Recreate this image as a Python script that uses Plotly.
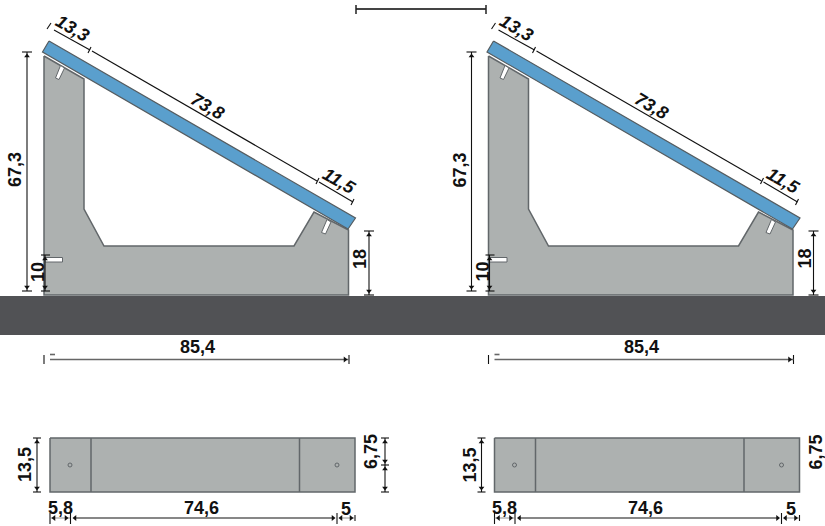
import plotly.graph_objects as go

W, H = 825, 526
FONT = "Liberation Sans"
GRAY = "#adb1b0"; EDGE = "#62676a"; BLUE = "#5a9fcd"; DARK = "#515255"; INK = "#111111"

offsets = [0, 444.5]

body_x = [44, 84, 84, 104, 294, 314, 348.5, 348.5, 44]
body_y = [56, 79, 209, 246, 246, 212, 230, 295, 295]
panel_x = [49, 42.5, 348, 355.5]
panel_y = [41, 52, 229, 218]
slot1_x = [60.5, 64.5, 59, 55.5]
slot1_y = [65.5, 68, 79.5, 78]
slot2_x = [327, 331, 325.5, 321.5]
slot2_y = [219.5, 222, 234, 232.5]
slot3_x = [45, 62.5, 62.5, 45]
slot3_y = [257.5, 257.5, 262, 262]

# dimension lines: (x0, y0, x1, y1)
dims_front = [
    (27, 52, 27, 291), (22, 52, 32, 52), (22, 291, 32, 291),
    (45, 255, 45, 291), (41, 255, 50, 255), (41, 291, 50, 291),
    (369, 231, 369, 295), (364, 231, 374, 231), (364, 295, 374, 295),
    (44, 355, 44, 364), (349, 355, 349, 364),
    (54, 30, 90, 50), (92, 51, 317, 181), (319, 182, 353, 202),
    (47, 29, 51, 23), (88, 53, 91, 47), (316, 184, 319, 178), (351, 205, 354, 199),
]
dims_front_soft = [(50, 359.5, 349, 359.5), (50, 354.5, 55, 354.5)]
labels_front = [
    ("13,3", 72, 28, 30, True), ("73,8", 207, 106, 30, True), ("11,5", 339, 181, 30, True),
    ("67,3", 15, 170, -90, False), ("10", 38, 272, -90, False), ("18", 360, 259, -90, False),
    ("85,4", 197, 347, 0, False),
]
arrows_up_x = [27, 45, 369]
arrows_up_y = [56, 259, 235]
arrows_down_x = [27, 45, 369]
arrows_down_y = [287, 287, 291]
arrows_right_x = [345]
arrows_right_y = [359.5]

plan_x = [50, 355, 355, 50]
plan_y = [438, 438, 492, 492]
plan_dividers = [91, 299.5]
plan_holes_x = [70, 337]
plan_hole_y = 465
dims_plan = [
    (37, 438, 37, 492), (33, 438, 41, 438), (33, 492, 41, 492),
    (385, 438, 385, 492), (381, 438, 389, 438), (381, 492, 389, 492), (381, 465, 389, 465),
    (75, 518, 333, 518),
    (50, 513, 50, 524), (70.5, 513, 70.5, 524), (337, 513, 337, 524), (355, 515, 355, 521),
]
dims_plan_soft = [(50, 518, 70, 518), (340, 518, 355, 518)]
labels_plan = [
    ("13,5", 25, 465, -90, False), ("6,75", 371, 452, -90, False),
    ("5,8", 60, 508, 0, False), ("74,6", 201, 508, 0, False), ("5", 346, 509, 0, False),
]
plan_up_x = [37, 385, 385]
plan_up_y = [442, 442, 469]
plan_down_x = [37, 385, 385]
plan_down_y = [488, 461, 488]
plan_left_x = [54, 75, 341]
plan_left_y = [518, 518, 518]
plan_right_x = [66, 333, 351]
plan_right_y = [518, 518, 518]

ground_x = [0, 825, 825, 0]
ground_y = [296, 296, 335, 335]
bar_x = [356, 486]
bar_y = [9, 9]
bar_caps = [(356, 5, 356, 14), (486, 5, 486, 14)]

fig = go.Figure()


def poly(xs, ys, fill, line, width, dx=0):
    fig.add_trace(go.Scatter(x=[v + dx for v in xs] + [xs[0] + dx], y=list(ys) + [ys[0]],
                             mode="lines", fill="toself", fillcolor=fill,
                             line=dict(color=line, width=width), hoverinfo="skip", showlegend=False))


def segs(items, dx=0, color=INK, width=1.1):
    xs, ys = [], []
    for x0, y0, x1, y1 in items:
        xs += [x0 + dx, x1 + dx, None]
        ys += [y0, y1, None]
    fig.add_trace(go.Scatter(x=xs, y=ys, mode="lines", line=dict(color=color, width=width),
                             hoverinfo="skip", showlegend=False))


def arrows(xs, ys, symbol, dx=0):
    fig.add_trace(go.Scatter(x=[v + dx for v in xs], y=ys, mode="markers",
                             marker=dict(symbol=symbol, size=5, color=INK, line=dict(width=0)),
                             hoverinfo="skip", showlegend=False))


def label(text, x, y, angle, italic, dx=0):
    fig.add_annotation(x=x + dx, y=y, text=f"<i>{text}</i>" if italic else text, textangle=angle,
                       showarrow=False, xref="x", yref="y",
                       font=dict(family=FONT, size=18, color="#111111", weight="bold"))


poly(ground_x, ground_y, DARK, DARK, 0)
segs([(bar_x[0], bar_y[0], bar_x[1], bar_y[1])], color="#444444", width=2)
segs(bar_caps, color="#222222", width=1.5)

for dx in offsets:
    poly(body_x, body_y, GRAY, EDGE, 1.5, dx)
    poly(panel_x, panel_y, BLUE, "#555c60", 1.2, dx)
    for sx, sy in [(slot1_x, slot1_y), (slot2_x, slot2_y), (slot3_x, slot3_y)]:
        poly(sx, sy, "#ffffff", EDGE, 1, dx)
    segs(dims_front, dx)
    segs(dims_front_soft, dx, "#666666", 1.6)
    arrows(arrows_up_x, arrows_up_y, "triangle-up", dx)
    arrows(arrows_down_x, arrows_down_y, "triangle-down", dx)
    arrows(arrows_right_x, arrows_right_y, "triangle-right", dx)
    for t, x, y, a, it in labels_front:
        label(t, x, y, a, it, dx)
    poly(plan_x, plan_y, GRAY, EDGE, 1.5, dx)
    segs([(d, 438, d, 492) for d in plan_dividers], dx, EDGE, 1.5)
    fig.add_trace(go.Scatter(x=[h + dx for h in plan_holes_x], y=[plan_hole_y] * 2, mode="markers",
                             marker=dict(size=4, color=GRAY, line=dict(color=EDGE, width=1)),
                             hoverinfo="skip", showlegend=False))
    segs(dims_plan, dx)
    segs(dims_plan_soft, dx, "#777777", 0.8)
    arrows(plan_up_x, plan_up_y, "triangle-up", dx)
    arrows(plan_down_x, plan_down_y, "triangle-down", dx)
    arrows(plan_left_x, plan_left_y, "triangle-left", dx)
    arrows(plan_right_x, plan_right_y, "triangle-right", dx)
    for t, x, y, a, it in labels_plan:
        label(t, x, y, a, it, dx)

fig.update_layout(width=W, height=H, margin=dict(l=0, r=0, t=0, b=0), paper_bgcolor="white",
                  plot_bgcolor="white", showlegend=False,
                  xaxis=dict(range=[0, W], visible=False, fixedrange=True),
                  yaxis=dict(range=[H, 0], visible=False, fixedrange=True))
fig.write_html("out.html", config=dict(displayModeBar=False),
               post_script="document.body.style.margin='0';document.body.style.overflow='hidden';")
